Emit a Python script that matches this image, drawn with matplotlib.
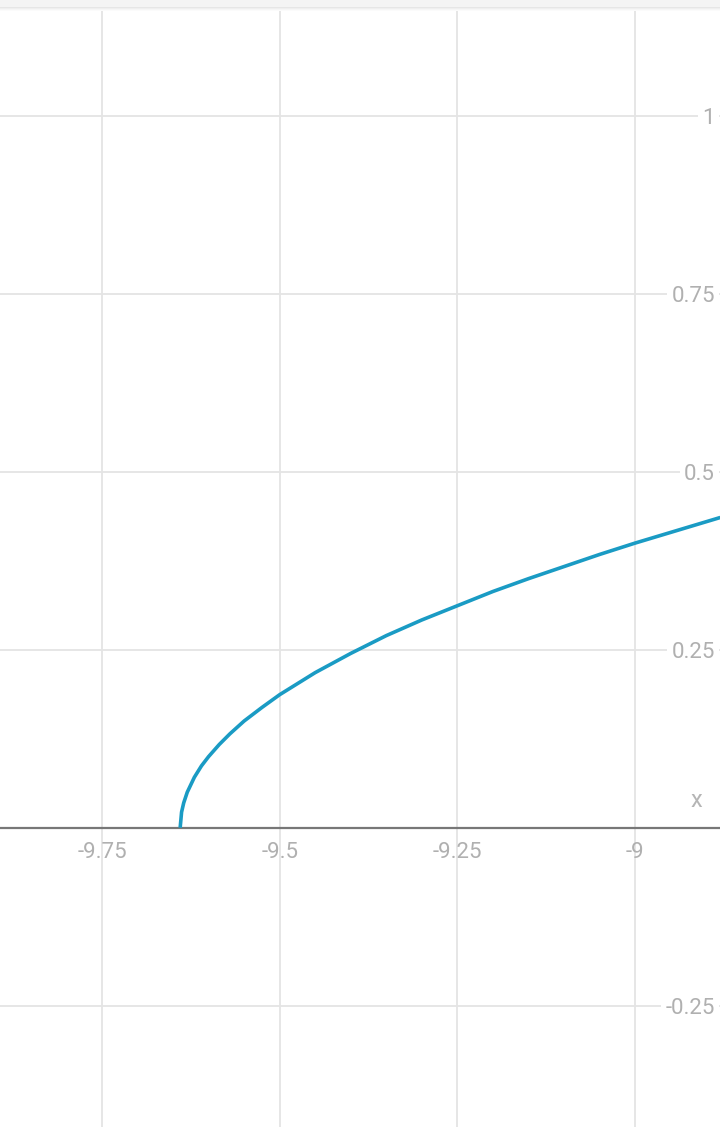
import matplotlib

matplotlib.use("Agg")

import matplotlib.pyplot as plt
from matplotlib.patches import Rectangle

# curve points
curve_x = [-9.640, -9.638, -9.635, -9.630, -9.620, -9.610, -9.600, -9.585, -9.570,
           -9.550, -9.525, -9.500, -9.450, -9.400, -9.350, -9.300, -9.250, -9.200,
           -9.150, -9.100, -9.050, -9.000, -8.950, -8.880]
curve_y = [0.000, 0.022, 0.035, 0.050, 0.071, 0.087, 0.100, 0.117, 0.132,
           0.150, 0.169, 0.187, 0.218, 0.245, 0.270, 0.292, 0.312, 0.332,
           0.350, 0.367, 0.384, 0.400, 0.415, 0.436]

x_ticks = [-9.75, -9.5, -9.25, -9.0]
x_tick_labels = ["-9.75", "-9.5", "-9.25", "-9"]
y_ticks = [1.0, 0.75, 0.5, 0.25, -0.25]
y_tick_labels = ["1", "0.75", "0.5", "0.25", "-0.25"]

W, H = 720, 1127
x_min, x_max = -9.8935, -8.8804
y_min, y_max = -0.4205, 1.1632

fig = plt.figure(figsize=(W / 100, H / 100), dpi=100)
ax = fig.add_axes([0, 0, 1, 1])
ax.set_xlim(x_min, x_max)
ax.set_ylim(y_min, y_max)
ax.axis("off")

px_x = (x_max - x_min) / W
px_y = (y_max - y_min) / H

grid_color = "#e4e4e4"
label_color = "#b0b0b0"
font = ["Roboto", "DejaVu Sans"]

for xv in x_ticks:
    ax.axvline(xv, color=grid_color, lw=1.3, zorder=1)
for yv in y_ticks + [0.0]:
    ax.axhline(yv, color=grid_color, lw=1.3, zorder=1)

# x axis
ax.axhline(0, color="#777777", lw=1.6, zorder=3)

for xv, lab in zip(x_ticks, x_tick_labels):
    ax.text(xv, -25 * px_y, lab, ha="center", va="center", fontsize=16,
            color=label_color, family=font, zorder=4)

for yv, lab in zip(y_ticks, y_tick_labels):
    ax.text(x_max - 5 * px_x, yv - 2.5 * px_y, lab, ha="right", va="center", fontsize=16,
            color=label_color, family=font, zorder=4,
            bbox=dict(facecolor="white", edgecolor="none", pad=3.0))

ax.text(x_max - 24 * px_x, 27 * px_y, "x", ha="center", va="center",
        fontsize=17, color="#b5b5b5", family=font, zorder=4)

ax.plot(curve_x, curve_y, color="#1a9bc4", lw=2.6, solid_capstyle="butt", zorder=5)

# top bar with faint shadow
fig.patches.append(Rectangle((0, 1 - 7 / H), 1, 7 / H, transform=fig.transFigure,
                             facecolor="#f4f4f4", edgecolor="none", zorder=10))
for i, c in enumerate(["#e6e6e6", "#efefef", "#f6f6f6", "#fbfbfb"]):
    fig.patches.append(Rectangle((0, 1 - (8 + i) / H), 1, 1 / H, transform=fig.transFigure,
                                 facecolor=c, edgecolor="none", zorder=10))

fig.savefig("out.png", dpi=100)
plt.close(fig)
